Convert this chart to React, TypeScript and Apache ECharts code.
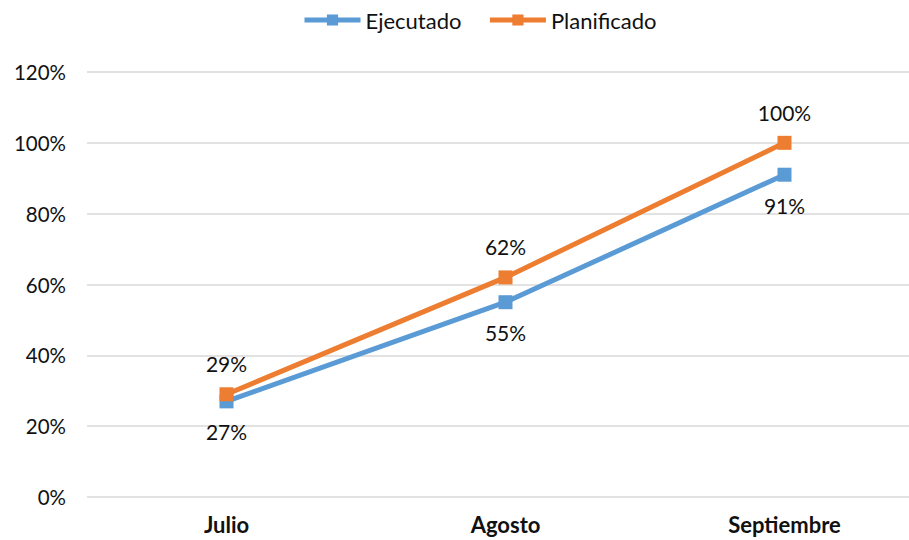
import React, { useEffect, useRef } from "react";
import * as echarts from "echarts";

const categories = ["Julio", "Agosto", "Septiembre"];
const ejecutado = [27, 55, 91];
const planificado = [29, 62, 100];
const yTicks = { min: 0, max: 120, interval: 20 };

export default function App() {
  const ref = useRef<HTMLDivElement>(null);
  useEffect(() => {
    document.body.style.margin = "0";
    const chart = echarts.init(ref.current!, null, { renderer: "svg" });
    const font = "Lato, 'Open Sans', sans-serif";
    chart.setOption({
      animation: false,
      textStyle: { fontFamily: font },
      legend: {
        top: 9,
        left: 302,
        padding: 0,
        itemWidth: 56,
        itemHeight: 14,
        itemGap: 26,
        lineStyle: { width: 5 },
        textStyle: { fontSize: 22, color: "#111", fontFamily: font },
        data: ["Ejecutado", "Planificado"],
      },
      grid: { left: 87, right: 0, top: 72, bottom: 43 },
      xAxis: {
        type: "category",
        data: categories,
        boundaryGap: true,
        axisLine: { show: false },
        axisTick: { show: false },
        axisLabel: { fontSize: 22, fontWeight: "bold", color: "#111", margin: 16, fontFamily: font },
      },
      yAxis: {
        type: "value",
        min: yTicks.min,
        max: yTicks.max,
        interval: yTicks.interval,
        axisLine: { show: false },
        axisTick: { show: false },
        splitLine: { lineStyle: { color: "#d9d9d9", width: 1.5 } },
        axisLabel: { formatter: "{value}%", fontSize: 20.5, color: "#111", margin: 21, fontFamily: font },
      },
      series: [
        {
          name: "Ejecutado",
          type: "line",
          data: ejecutado,
          symbol: "rect",
          symbolSize: 14,
          lineStyle: { width: 5, color: "#5B9BD5" },
          itemStyle: { color: "#5B9BD5" },
          label: { show: true, position: "bottom", distance: 13, formatter: "{c}%", fontSize: 21, color: "#111", fontFamily: font },
        },
        {
          name: "Planificado",
          type: "line",
          data: planificado,
          symbol: "rect",
          symbolSize: 14,
          lineStyle: { width: 5, color: "#ED7D31" },
          itemStyle: { color: "#ED7D31" },
          label: { show: true, position: "top", distance: 13, formatter: "{c}%", fontSize: 21, color: "#111", fontFamily: font },
        },
      ],
    });
    return () => chart.dispose();
  }, []);
  return (
    <div style={{ width: 909, height: 540, overflow: "hidden" }}>
      <div ref={ref} style={{ width: 924, height: 540 }} />
    </div>
  );
}
